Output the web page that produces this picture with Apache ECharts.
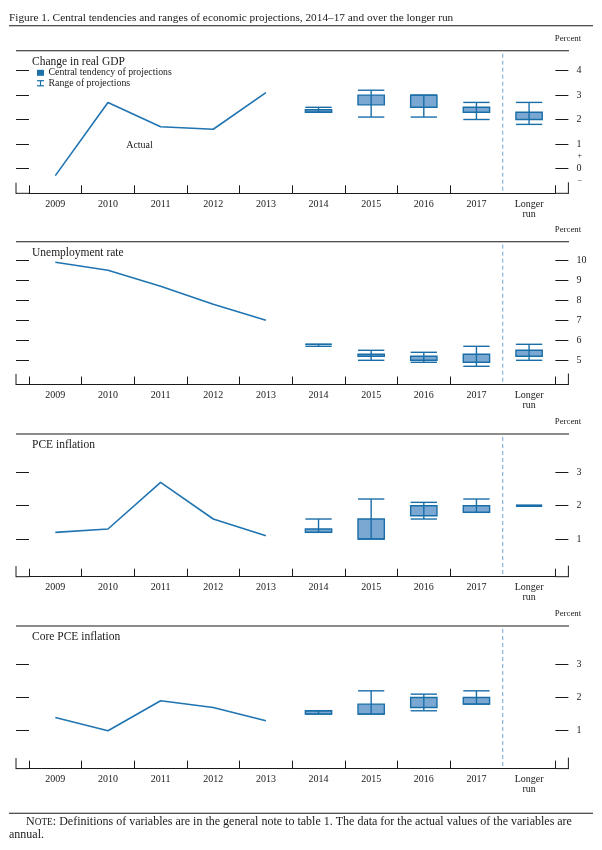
<!DOCTYPE html>
<html><head><meta charset="utf-8">
<script src="https://cdn.jsdelivr.net/npm/echarts@6/dist/echarts.min.js"></script>
<style>html,body{margin:0;padding:0;background:#fff}#c{width:602px;height:850px}</style>
</head><body><div id="c"></div>
<script>
// ---------------- data ----------------
const categories = ['2009','2010','2011','2012','2013','2014','2015','2016','2017','Longer\nrun'];
const projStart = 5; // index of first projection category (2014)

const gdpActual    = [-0.3, 2.7, 1.7, 1.6, 3.1];
const gdpCtLow     = [2.3, 2.6, 2.5, 2.3, 2.0];
const gdpCtHigh    = [2.4, 3.0, 3.0, 2.5, 2.3];
const gdpRangeLow  = [2.3, 2.1, 2.1, 2.0, 1.8];
const gdpRangeHigh = [2.5, 3.2, 3.0, 2.7, 2.7];
const gdpTicks     = [0, 1, 2, 3, 4];
const gdpSignTicks = [0.5, -0.5];

const unActual     = [9.9, 9.5, 8.7, 7.8, 7.0];
const unCtLow      = [5.8, 5.2, 5.0, 4.9, 5.2];
const unCtHigh     = [5.8, 5.3, 5.2, 5.3, 5.5];
const unRangeLow   = [5.7, 5.0, 4.9, 4.7, 5.0];
const unRangeHigh  = [5.8, 5.5, 5.4, 5.7, 5.8];
const unTicks      = [5, 6, 7, 8, 9, 10];

const pceActual    = [1.2, 1.3, 2.7, 1.6, 1.1];
const pceCtLow     = [1.2, 1.0, 1.7, 1.8, 2.0];
const pceCtHigh    = [1.3, 1.6, 2.0, 2.0, 2.0];
const pceRangeLow  = [1.2, 1.0, 1.6, 1.8, 2.0];
const pceRangeHigh = [1.6, 2.2, 2.1, 2.2, 2.0];
const pceTicks     = [1, 2, 3];

const coreActual    = [1.4, 1.0, 1.9, 1.7, 1.3];
const coreCtLow     = [1.5, 1.5, 1.7, 1.8];
const coreCtHigh    = [1.6, 1.8, 2.0, 2.0];
const coreRangeLow  = [1.5, 1.5, 1.6, 1.8];
const coreRangeHigh = [1.6, 2.2, 2.1, 2.2];
const coreTicks     = [1, 2, 3];

const panelTitles = ['Change in real GDP', 'Unemployment rate', 'PCE inflation', 'Core PCE inflation'];
const figureTitle = 'Figure 1. Central tendencies and ranges of economic projections, 2014\u201317 and over the longer run';
const legendLabels = ['Central tendency of projections', 'Range of projections'];
const actualLabel = 'Actual';
const unitLabel = 'Percent';
const noteHead = ['N', 'OTE'];
const noteLine1 = ': Definitions of variables are in the general note to table 1. The data for the actual values of the variables are';
const noteLine2 = 'annual.';

const panels = [
  {actual: gdpActual,  ctLow: gdpCtLow,  ctHigh: gdpCtHigh,  rLow: gdpRangeLow,  rHigh: gdpRangeHigh,  ticks: gdpTicks},
  {actual: unActual,   ctLow: unCtLow,   ctHigh: unCtHigh,   rLow: unRangeLow,   rHigh: unRangeHigh,   ticks: unTicks},
  {actual: pceActual,  ctLow: pceCtLow,  ctHigh: pceCtHigh,  rLow: pceRangeLow,  rHigh: pceRangeHigh,  ticks: pceTicks},
  {actual: coreActual, ctLow: coreCtLow, ctHigh: coreCtHigh, rLow: coreRangeLow, rHigh: coreRangeHigh, ticks: coreTicks}
];

// ---------------- layout / style ----------------
const layout = [
  {top: 50.7,  bottom: 193.3, min: -1.025, max: 4.82},
  {top: 241.7, bottom: 384.5, min: 3.79,   max: 10.93},
  {top: 434.0, bottom: 576.7, min: -0.13,  max: 4.15},
  {top: 626.0, bottom: 768.6, min: -0.14,  max: 4.15}
];
const GL = 29, GW = 526.4, FRAME_L = 16, FRAME_R = 568.4;
const FONT = '"Liberation Serif", "DejaVu Serif", serif';
const INK = '#1a1a1a';
const LINE = '#1f74b1';
const BOX_FILL = '#7aa8d2';
const BOX_STROKE = '#1a6ea8';
const DASH = '#6fa6d8';

function renderBox(params, api) {
  const x = api.value(0);
  const ctLo = api.coord([x, api.value(1)]);
  const ctHi = api.coord([x, api.value(2)]);
  const rLo = api.coord([x, api.value(3)]);
  const rHi = api.coord([x, api.value(4)]);
  const bw = api.size([1, 0])[0] * 0.5;
  const cx = ctLo[0];
  const h = ctLo[1] - ctHi[1];
  const children = [];
  const st = {stroke: BOX_STROKE, lineWidth: 1.4, fill: null};
  const allSame = Math.abs(rLo[1] - rHi[1]) < 0.5 && h < 0.5;
  if (allSame) {
    children.push({type: 'line', shape: {x1: cx - bw / 2, y1: ctLo[1], x2: cx + bw / 2, y2: ctLo[1]},
      style: {stroke: BOX_STROKE, lineWidth: 2.6}});
    return {type: 'group', children};
  }
  if (h > 0.5) {
    children.push({type: 'rect', shape: {x: cx - bw / 2, y: ctHi[1], width: bw, height: h},
      style: {fill: BOX_FILL, stroke: BOX_STROKE, lineWidth: 1.4}});
  } else {
    children.push({type: 'line', shape: {x1: cx - bw / 2, y1: ctLo[1], x2: cx + bw / 2, y2: ctLo[1]}, style: st});
  }
  children.push({type: 'line', shape: {x1: cx, y1: rHi[1], x2: cx, y2: rLo[1]}, style: st});
  children.push({type: 'line', shape: {x1: cx - bw / 2, y1: rHi[1], x2: cx + bw / 2, y2: rHi[1]}, style: st});
  children.push({type: 'line', shape: {x1: cx - bw / 2, y1: rLo[1], x2: cx + bw / 2, y2: rLo[1]}, style: st});
  return {type: 'group', children};
}

const option = {animation: false, backgroundColor: '#fff', grid: [], xAxis: [], yAxis: [], series: [], graphic: []};
const G = option.graphic;
function txt(text, x, y, size, align, extra) {
  G.push({type: 'text', x, y, silent: true,
    style: Object.assign({text, fill: INK, font: size + 'px ' + FONT, align: align || 'left', verticalAlign: 'middle'}, extra || {})});
}
function ln(x1, y1, x2, y2, stroke, w, dash) {
  G.push({type: 'line', silent: true, shape: {x1, y1, x2, y2}, style: {stroke, lineWidth: w, lineDash: dash || null}});
}

panels.forEach((p, i) => {
  const L = layout[i];
  option.grid.push({left: GL, width: GW, top: L.top, height: L.bottom - L.top});
  option.xAxis.push({type: 'category', gridIndex: i, data: categories, boundaryGap: true, position: 'bottom',
    axisLine: {show: true, onZero: false, lineStyle: {color: INK, width: 1}},
    axisTick: {show: true, inside: true, length: 8, interval: (idx) => idx !== 9, lineStyle: {color: INK, width: 1}},
    axisLabel: {interval: 0, margin: 6, fontFamily: FONT, fontSize: 10, color: INK, lineHeight: 10},
    splitLine: {show: false}});
  const yBase = {type: 'value', gridIndex: i, min: L.min, max: L.max, splitLine: {show: false}, axisLine: {show: false}};
  const leftIdx = option.yAxis.length;
  option.yAxis.push(Object.assign({}, yBase, {position: 'left',
    axisTick: {show: true, length: 13, customValues: p.ticks, lineStyle: {color: INK, width: 1}},
    axisLabel: {show: false}}));
  option.yAxis.push(Object.assign({}, yBase, {position: 'right',
    axisTick: {show: true, length: 13, customValues: p.ticks, lineStyle: {color: INK, width: 1}},
    axisLabel: {show: true, customValues: p.ticks, margin: 21, fontFamily: FONT, fontSize: 10, color: INK}}));
  if (i === 0) {
    option.yAxis.push(Object.assign({}, yBase, {position: 'right',
      axisTick: {show: false},
      axisLabel: {show: true, customValues: gdpSignTicks, margin: 22, fontFamily: FONT, fontSize: 8, color: INK,
        formatter: (v) => (v > 0 ? '+' : '\u2212')}}));
  }
  option.series.push({type: 'line', xAxisIndex: i, yAxisIndex: leftIdx, silent: true,
    data: p.actual.map((v, k) => [k, v]), symbol: 'none', lineStyle: {color: LINE, width: 1.6}});
  option.series.push({type: 'custom', xAxisIndex: i, yAxisIndex: leftIdx, silent: true, clip: false,
    renderItem: renderBox, encode: {x: 0, y: [1, 2, 3, 4]},
    data: p.ctLow.map((v, k) => [projStart + k, p.ctLow[k], p.ctHigh[k], p.rLow[k], p.rHigh[k]])});

  // frame decorations
  ln(FRAME_L, L.top, FRAME_R + 0.6, L.top, INK, 1.1);
  ln(FRAME_L, L.bottom, GL, L.bottom, INK, 1);
  ln(GL + GW, L.bottom, FRAME_R, L.bottom, INK, 1);
  ln(FRAME_L, L.bottom - 10.6, FRAME_L, L.bottom + 0.5, INK, 1);
  ln(FRAME_R, L.bottom - 11, FRAME_R, L.bottom + 0.5, INK, 1);
  const xd = GL + GW * 9 / 10;
  ln(xd, L.top + 3, xd, L.bottom, DASH, 1, [4, 3]);
  txt(unitLabel, 568, L.top - 12.3, 8.8, 'center');
  txt(panelTitles[i], 32, L.top + 11, 11.5, 'left');
});

// title + rules
txt(figureTitle, 9, 18, 11.3, 'left');
ln(9, 25.7, 593, 25.7, INK, 1.1);
// legend (panel 1)
G.push({type: 'rect', silent: true, shape: {x: 37, y: 69.8, width: 7, height: 6}, style: {fill: '#1f6fa8'}});
ln(37, 80.7, 44, 80.7, BOX_STROKE, 1.2);
ln(37, 85.8, 44, 85.8, BOX_STROKE, 1.2);
ln(40.5, 80.7, 40.5, 85.8, BOX_STROKE, 1.2);
txt(legendLabels[0], 48.5, 72.8, 9.8, 'left');
txt(legendLabels[1], 48.5, 83.3, 9.8, 'left');
txt(actualLabel, 139.5, 145, 10, 'center');

// note: size the first line so it fills the column like the justified original
const mctx = document.createElement('canvas').getContext('2d');
function wAt(s, size) { mctx.font = size + 'px ' + FONT; return mctx.measureText(s).width; }
const capRatio = 0.78;
const unitW = wAt(noteHead[0], 100) + wAt(noteHead[1], 100 * capRatio) + wAt(noteLine1, 100);
const noteSize = Math.min(12, 100 * (593 - 26) / unitW);
ln(9, 813.3, 593, 813.3, INK, 1.1);
G.push({type: 'text', x: 26, y: 822.3, silent: true, style: {
  text: '{a|' + noteHead[0] + '}{b|' + noteHead[1] + '}{a|' + noteLine1 + '}',
  verticalAlign: 'middle', align: 'left',
  rich: {a: {fontFamily: FONT, fontSize: noteSize, fill: INK}, b: {fontFamily: FONT, fontSize: noteSize * capRatio, fill: INK}}}});
txt(noteLine2, 9, 834.5, noteSize, 'left');

const chart = echarts.init(document.getElementById('c'), null, {renderer: 'canvas'});
chart.setOption(option);
</script></body></html>
